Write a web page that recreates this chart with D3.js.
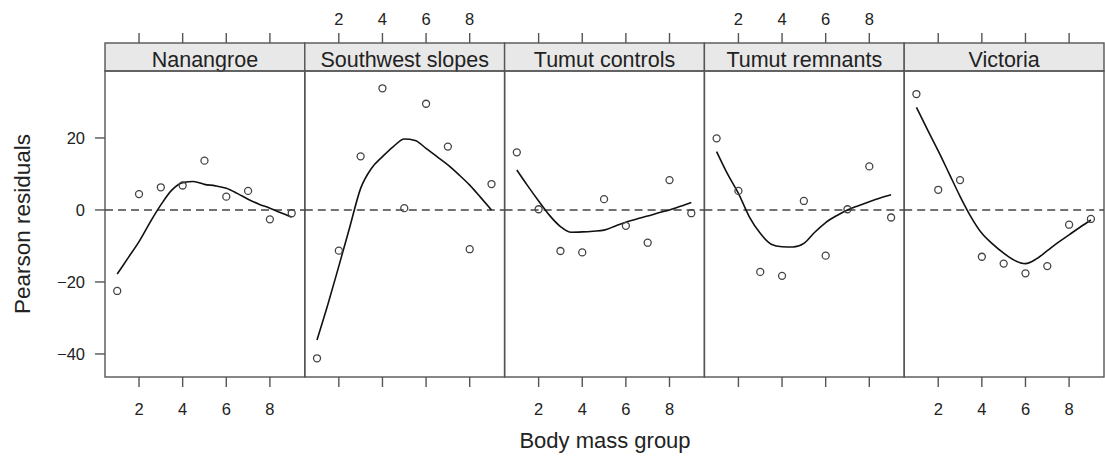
<!DOCTYPE html>
<html><head><meta charset="utf-8">
<script src="https://cdn.jsdelivr.net/npm/d3@7"></script>
<style>body{margin:0;background:#fff}svg{display:block}text{font-family:"Liberation Sans",Arial,Helvetica,sans-serif;fill:#222}</style>
</head><body>
<svg id="c" width="1105" height="456"></svg>
<script>
const panels = ["Nanangroe","Southwest slopes","Tumut controls","Tumut remnants","Victoria"];
const groups = [1,2,3,4,5,6,7,8,9];
const xTicks = [2,4,6,8];
const yTicks = [-40,-20,0,20];
const residuals = {
  "Nanangroe":        [-22.5, 4.4, 6.3, 6.8, 13.7, 3.7, 5.3, -2.6, -0.9],
  "Southwest slopes": [-41.2, -11.3, 14.9, 33.8, 0.5, 29.5, 17.6, -10.9, 7.2],
  "Tumut controls":   [16.0, 0.2, -11.4, -11.8, 3.0, -4.4, -9.1, 8.3, -0.9],
  "Tumut remnants":   [19.9, 5.3, -17.2, -18.3, 2.5, -12.7, 0.2, 12.1, -2.1],
  "Victoria":         [32.2, 5.6, 8.3, -13.0, -14.9, -17.6, -15.6, -4.1, -2.5]
};
const fitX = [1,1.5,2,2.5,3,3.5,4,4.5,5,5.5,6,6.5,7,7.5,8,8.5,9];
const smooth = {
  "Nanangroe":        [-17.8,-13.3,-8.8,-3.5,1.4,5.5,7.6,7.9,7.1,6.7,6.0,4.6,3.0,1.6,0.5,-0.8,-2.0],
  "Southwest slopes": [-36.1,-26.2,-15.6,-4.8,6.0,11.6,14.8,17.6,19.7,19.3,17.1,14.8,12.5,9.8,6.9,3.5,0.0],
  "Tumut controls":   [11.1,6.7,2.5,-1.5,-4.6,-6.2,-6.1,-5.9,-5.6,-4.5,-3.4,-2.5,-1.7,-0.8,0.0,1.0,2.1],
  "Tumut remnants":   [16.2,10.0,4.6,-1.9,-6.5,-9.5,-10.2,-10.3,-9.3,-6.2,-3.5,-1.6,0.0,1.2,2.3,3.3,4.2],
  "Victoria":         [28.5,22.4,16.4,10.1,3.8,-1.9,-6.5,-9.5,-12.0,-14.0,-14.9,-13.6,-11.3,-9.0,-6.9,-4.8,-2.8]
};

const svg = d3.select("#c");
const plotTop = 71, plotBottom = 377, stripTop = 43;
const band = d3.scaleBand().domain(panels).range([105, 1104]).padding(0);
const y = d3.scaleLinear().domain([-46.4, 38.6]).range([plotBottom, plotTop]);
const grey = "#555";

// y axis (left)
const ya = svg.append("g");
yTicks.forEach(t => {
  ya.append("line").attr("x1", 95).attr("x2", 105).attr("y1", y(t)).attr("y2", y(t)).attr("stroke", grey).attr("stroke-width", 1.4);
  ya.append("text").attr("x", 85).attr("y", y(t)).attr("text-anchor", "end").attr("dominant-baseline", "central").attr("font-size", 16.5).text(t < 0 ? "\u2212" + Math.abs(t) : t);
});

panels.forEach((p, i) => {
  const x0 = band(p), w = band.bandwidth();
  const x = d3.scaleLinear().domain([0.44, 9.6]).range([x0, x0 + w]);
  const g = svg.append("g");
  // strip
  g.append("rect").attr("x", x0).attr("y", stripTop).attr("width", w).attr("height", plotTop - stripTop).attr("fill", "#e8e8e8").attr("stroke", grey).attr("stroke-width", 1.4);
  g.append("text").attr("x", x0 + w / 2).attr("y", 67).attr("text-anchor", "middle").attr("font-size", 21.5).text(p);
  // panel box
  g.append("rect").attr("x", x0).attr("y", plotTop).attr("width", w).attr("height", plotBottom - plotTop).attr("fill", "none").attr("stroke", grey).attr("stroke-width", 1.4);
  // ticks
  xTicks.forEach(t => {
    g.append("line").attr("x1", x(t)).attr("x2", x(t)).attr("y1", stripTop).attr("y2", stripTop - 10).attr("stroke", grey).attr("stroke-width", 1.4);
    g.append("line").attr("x1", x(t)).attr("x2", x(t)).attr("y1", plotBottom).attr("y2", plotBottom + 10).attr("stroke", grey).attr("stroke-width", 1.4);
    if (i % 2 === 0) {
      g.append("text").attr("x", x(t)).attr("y", 415).attr("text-anchor", "middle").attr("font-size", 16.5).text(t);
    } else {
      g.append("text").attr("x", x(t)).attr("y", 25).attr("text-anchor", "middle").attr("font-size", 16.5).text(t);
    }
  });
  // zero dashed line
  g.append("line").attr("x1", x0).attr("x2", x0 + w).attr("y1", y(0)).attr("y2", y(0)).attr("stroke", "#444").attr("stroke-width", 1.6).attr("stroke-dasharray", "8,5");
  // smooth line
  const line = d3.line().x((d, k) => x(fitX[k])).y(d => y(d)).curve(d3.curveMonotoneX);
  g.append("path").datum(smooth[p]).attr("d", line).attr("fill", "none").attr("stroke", "#111").attr("stroke-width", 1.6);
  // points
  g.selectAll("circle").data(residuals[p]).join("circle")
    .attr("cx", (d, k) => x(groups[k])).attr("cy", d => y(d)).attr("r", 3.5)
    .attr("fill", "none").attr("stroke", "#444").attr("stroke-width", 1.3);
});

svg.append("text").attr("transform", `translate(30,${(plotTop + plotBottom) / 2}) rotate(-90)`).attr("text-anchor", "middle").attr("font-size", 22.5).text("Pearson residuals");
svg.append("text").attr("x", 605).attr("y", 448).attr("text-anchor", "middle").attr("font-size", 22).text("Body mass group");
</script>
</body></html>
